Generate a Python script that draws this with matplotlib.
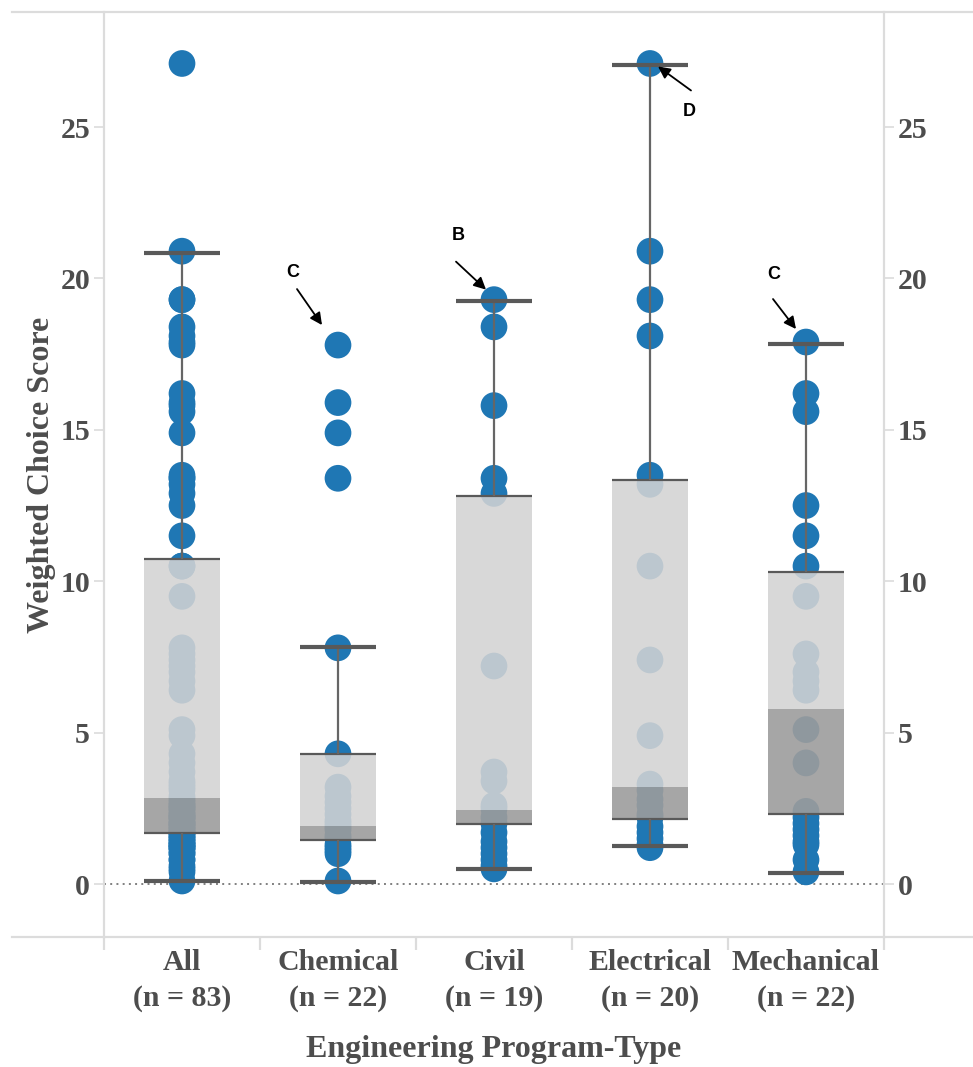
import numpy as np
import matplotlib
matplotlib.use("Agg")
import matplotlib.pyplot as plt
from matplotlib.lines import Line2D
from matplotlib.transforms import offset_copy

# ---------------- data ----------------
categories = ["All", "Chemical", "Civil", "Electrical", "Mechanical"]
chemical = [17.8, 15.9, 14.9, 13.4, 7.8, 4.3, 3.2, 2.9, 2.7, 2.5, 2.3, 2.1, 2.0,
            1.9, 1.8, 1.6, 1.5, 1.3, 1.2, 1.1, 1.0, 0.1]
civil = [19.3, 18.4, 15.8, 13.4, 12.9, 7.2, 3.7, 3.4, 2.6, 2.5, 2.2, 2.0, 1.7,
         1.4, 1.2, 1.0, 0.8, 0.6, 0.5]
electrical = [27.1, 20.9, 19.3, 18.1, 13.5, 13.2, 10.5, 7.4, 4.9, 3.3, 3.1, 2.8,
              2.6, 2.3, 2.2, 1.9, 1.7, 1.5, 1.3, 1.2]
mechanical = [17.9, 16.2, 15.6, 12.5, 11.5, 10.5, 9.5, 7.6, 7.0, 6.7, 6.4, 5.1,
              4.0, 2.4, 2.2, 2.0, 1.8, 1.6, 1.4, 1.3, 0.8, 0.4]
all_programs = chemical + civil + electrical + mechanical
series = [all_programs, chemical, civil, electrical, mechanical]

# box-plot statistics as displayed
whisker_low = [0.10, 0.08, 0.48, 1.26, 0.35]
q1 = [1.70, 1.45, 1.97, 2.16, 2.31]
median = [2.85, 1.93, 2.46, 3.19, 5.77]
q3 = [10.75, 4.29, 12.80, 13.34, 10.31]
whisker_high = [20.85, 7.82, 19.25, 27.06, 17.85]

# annotations: label, category index, target value
ann_labels = ["C", "B", "D", "C"]
ann_cat = [1, 2, 3, 4]
ann_val = [17.8, 19.3, 27.1, 17.9]

y_ticks = [0, 5, 10, 15, 20, 25]

# ---------------- style ----------------
W, H = 973, 1067
DPI = 100
fig = plt.figure(figsize=(W / DPI, H / DPI), dpi=DPI)
ax = fig.add_axes([104 / W, (H - 937) / H, (884 - 104) / W, (937 - 12) / H])
ax.set_xlim(-0.5, len(categories) - 0.5)
ax.set_ylim(-1.75, 28.8)

SERIF = ["Liberation Serif", "DejaVu Serif"]
SANS = ["Liberation Sans", "DejaVu Sans"]
TXT = "#4d4d4d"
BLUE = "#1f77b4"
LINE = "#dcdcdc"

x = np.arange(len(categories))
bw = 0.49

# zero reference line
ax.axhline(0, color="#808080", lw=1.4, ls=(0, (1, 2.2)), zorder=1)

# dots
for i, vals in enumerate(series):
    ax.scatter(np.full(len(vals), x[i]), vals, s=370, color=BLUE,
               edgecolors="none", zorder=2)

# boxes
ax.bar(x, np.array(q3) - np.array(median), bottom=median, width=bw,
       color="#d3d3d3", alpha=0.88, zorder=3, linewidth=0)
ax.bar(x, np.array(median) - np.array(q1), bottom=q1, width=bw,
       color="#9c9c9c", alpha=0.9, zorder=3, linewidth=0)
ax.hlines(q3, x - bw / 2, x + bw / 2, color="#595959", lw=1.6, zorder=4)
ax.hlines(q1, x - bw / 2, x + bw / 2, color="#595959", lw=1.6, zorder=4)

# whiskers
ax.vlines(x, q3, whisker_high, color="#666666", lw=1.6, zorder=4)
ax.vlines(x, whisker_low, q1, color="#666666", lw=1.6, zorder=4)
ax.hlines(whisker_high, x - bw / 2, x + bw / 2, color="#595959", lw=3.0, zorder=4)
ax.hlines(whisker_low, x - bw / 2, x + bw / 2, color="#595959", lw=3.0, zorder=4)

# annotations (offsets in pixels relative to the target dot)
text_off = [(-45, 73), (-36, 64), (39, -48), (-32, 68)]
tail_off = [(-41, 56), (-38, 38), (41, -27), (-33, 43)]
head_off = [(-16, 20), (-8, 10), (8, -3), (-10, 13)]
for lab, ci, v, to, ta, he in zip(ann_labels, ann_cat, ann_val, text_off, tail_off, head_off):
    ax.annotate(lab, xy=(x[ci], v), xytext=to, textcoords="offset pixels",
                ha="center", va="center", fontsize=13, fontweight="bold",
                family=SANS, color="black", zorder=6)
    t_head = offset_copy(ax.transData, fig=fig, x=he[0], y=he[1], units="dots")
    t_tail = offset_copy(ax.transData, fig=fig, x=ta[0], y=ta[1], units="dots")
    ax.annotate("", xy=(x[ci], v), xycoords=t_head,
                xytext=(x[ci], v), textcoords=t_tail,
                arrowprops=dict(arrowstyle="-|>", color="black", lw=1.3,
                                mutation_scale=18, shrinkA=0, shrinkB=0),
                zorder=6)

# spines
for s in ["top", "bottom"]:
    ax.spines[s].set_visible(False)
for s in ["left", "right"]:
    ax.spines[s].set_color(LINE)
    ax.spines[s].set_linewidth(1.6)

# y ticks
ax.set_yticks(y_ticks)
ax.set_yticklabels([str(t) for t in y_ticks])
ax.tick_params(axis="y", which="major", left=True, right=True, labelleft=True,
               labelright=True, length=7, width=1.2, color=LINE, pad=3,
               labelsize=21.5, labelcolor=TXT)
for lab in ax.get_yticklabels():
    lab.set_family(SERIF)
    lab.set_fontweight("bold")

# x ticks
ax.set_xticks(x)
ax.set_xticklabels([f"{c}\n(n = {len(s)})" for c, s in zip(categories, series)])
ax.set_xticks(np.arange(-0.5, len(categories), 1.0), minor=True)
ax.tick_params(axis="x", which="major", length=0, pad=9, labelsize=21.5,
               labelcolor=TXT)
ax.tick_params(axis="x", which="minor", length=9, width=1.6, color=LINE)
for lab in ax.get_xticklabels():
    lab.set_family(SERIF)
    lab.set_fontweight("bold")
    lab.set_linespacing(1.38)

ax.set_xlabel("Engineering Program-Type", family=SERIF, fontweight="bold",
              fontsize=23, color=TXT, labelpad=17)
ax.set_ylabel("Weighted Choice Score", family=SERIF, fontweight="bold",
              fontsize=23, color=TXT, labelpad=3)

# figure-level frame lines (top and bottom)
fig.add_artist(Line2D([12 / W, 1.0], [(H - 12) / H] * 2, color=LINE, lw=1.6))
fig.add_artist(Line2D([12 / W, 1.0], [(H - 937) / H] * 2, color=LINE, lw=1.6))

fig.savefig("out.png", dpi=DPI)
